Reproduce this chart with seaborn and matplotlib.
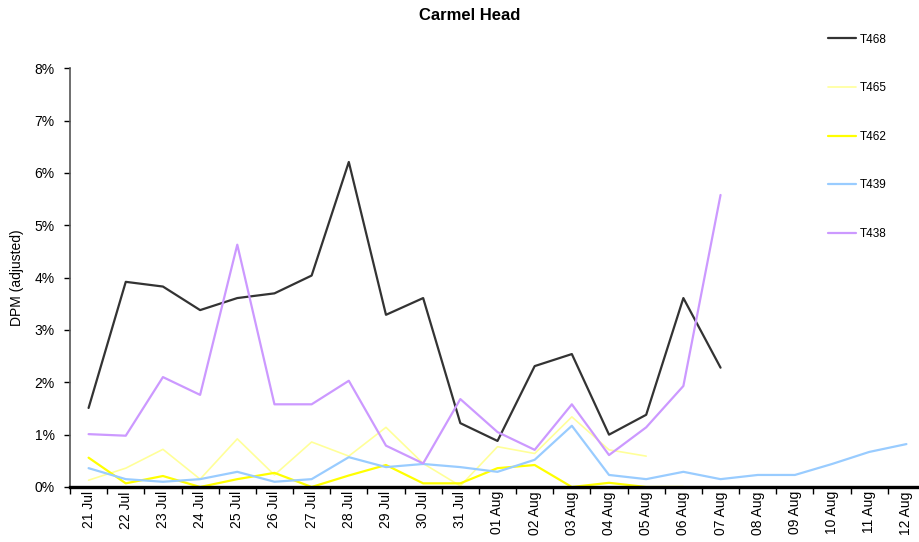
import numpy as np
import pandas as pd
import matplotlib
matplotlib.use("Agg")
import matplotlib.pyplot as plt
from matplotlib.lines import Line2D
import seaborn as sns

dates = ["21 Jul", "22 Jul", "23 Jul", "24 Jul", "25 Jul", "26 Jul", "27 Jul",
         "28 Jul", "29 Jul", "30 Jul", "31 Jul", "01 Aug", "02 Aug", "03 Aug",
         "04 Aug", "05 Aug", "06 Aug", "07 Aug", "08 Aug", "09 Aug", "10 Aug",
         "11 Aug", "12 Aug"]

nan = np.nan
# DPM (adjusted), percent of minutes
t468 = [1.51, 3.92, 3.83, 3.38, 3.61, 3.70, 4.04, 6.21, 3.29, 3.61, 1.22, 0.88,
        2.31, 2.54, 1.00, 1.38, 3.61, 2.28, nan, nan, nan, nan, nan]
t465 = [0.13, 0.36, 0.72, 0.15, 0.92, 0.23, 0.86, 0.59, 1.14, 0.45, 0.02, 0.77,
        0.64, 1.34, 0.71, 0.59, nan, nan, nan, nan, nan, nan, nan]
t462 = [0.56, 0.07, 0.21, 0.00, 0.15, 0.27, 0.00, 0.22, 0.42, 0.07, 0.07, 0.36,
        0.42, 0.00, 0.08, 0.00, 0.00, nan, nan, nan, nan, nan, nan]
t439 = [0.36, 0.15, 0.10, 0.15, 0.29, 0.10, 0.15, 0.57, 0.38, 0.44, 0.38, 0.29,
        0.52, 1.17, 0.23, 0.15, 0.29, 0.15, 0.23, 0.23, 0.44, 0.67, 0.82]
t438 = [1.01, 0.98, 2.10, 1.76, 4.63, 1.58, 1.58, 2.03, 0.79, 0.45, 1.68, 1.05,
        0.71, 1.58, 0.61, 1.14, 1.93, 5.58, nan, nan, nan, nan, nan]

series_names = ["T468", "T465", "T462", "T439", "T438"]
series_values = [t468, t465, t462, t439, t438]
colors = {"T468": "#333333", "T465": "#FFFF99", "T462": "#FFFF00",
          "T439": "#99CCFF", "T438": "#CC99FF"}
widths = {"T468": 1.6, "T465": 1.2, "T462": 1.6, "T439": 1.6, "T438": 1.6}

frames = []
for name, vals in zip(series_names, series_values):
    frames.append(pd.DataFrame({"idx": np.arange(len(dates)),
                                "dpm": np.array(vals, dtype=float) / 100.0,
                                "unit": name}))
df = pd.concat(frames, ignore_index=True).dropna()

sns.set_style("white")
plt.rcParams["font.family"] = ["Liberation Sans", "DejaVu Sans"]
plt.rcParams["text.color"] = "#000000"
plt.rcParams["axes.labelcolor"] = "#000000"
plt.rcParams["xtick.color"] = "#000000"
plt.rcParams["ytick.color"] = "#000000"

fig = plt.figure(figsize=(9.2, 5.42), dpi=100)
ax = fig.add_axes([70 / 920, 55 / 542, 855 / 920, 418.7 / 542])

draw_order = ["T465", "T462", "T439", "T468", "T438"]
for name in draw_order:
    sub = df[df["unit"] == name]
    sns.lineplot(data=sub, x="idx", y="dpm", color=colors[name],
                 linewidth=widths[name], ax=ax, legend=False,
                 estimator=None, sort=True)

ax.set_xlim(-0.5, len(dates) - 0.5)
ax.set_ylim(0, 0.08)
ax.set_yticks(np.arange(0, 0.081, 0.01))
ax.set_yticklabels([f"{i}%" for i in range(9)], fontsize=10)
ax.set_xticks(np.arange(len(dates)))
ax.set_xticklabels(dates, rotation=90, fontsize=10)
ax.set_xticks(np.arange(-0.5, len(dates), 1.0), minor=True)
ax.tick_params(axis="x", which="major", length=0, pad=3)
ax.tick_params(axis="x", which="minor", length=5, width=1, color="#000000",
               direction="out", bottom=True)
ax.tick_params(axis="y", which="major", length=4, width=1, color="#000000",
               direction="out", left=True, pad=7)
ax.set_xlabel("")
ax.set_ylabel("DPM (adjusted)", fontsize=10)
ax.yaxis.set_label_coords(-46 / 855, (487 - 278) / 418.7)

for side in ["top", "right"]:
    ax.spines[side].set_visible(False)
ax.spines["left"].set_color("#555555")
ax.spines["left"].set_linewidth(1.2)
ax.spines["bottom"].set_color("#000000")
ax.spines["bottom"].set_linewidth(2.4)

fig.text(470 / 920, 1 - 16 / 542, "Carmel Head", ha="center", va="center",
         fontsize=12, fontweight="bold")

handles = [Line2D([0], [0], color=colors[n], linewidth=widths[n]) for n in series_names]
fig.legend(handles, series_names, loc="upper left",
           bbox_to_anchor=(824 / 920, 1 - 30 / 542), frameon=False,
           fontsize=8.5, handlelength=2.4, handletextpad=0.3,
           labelspacing=3.1, borderaxespad=0, borderpad=0.3)

fig.savefig("out.png", dpi=100)
